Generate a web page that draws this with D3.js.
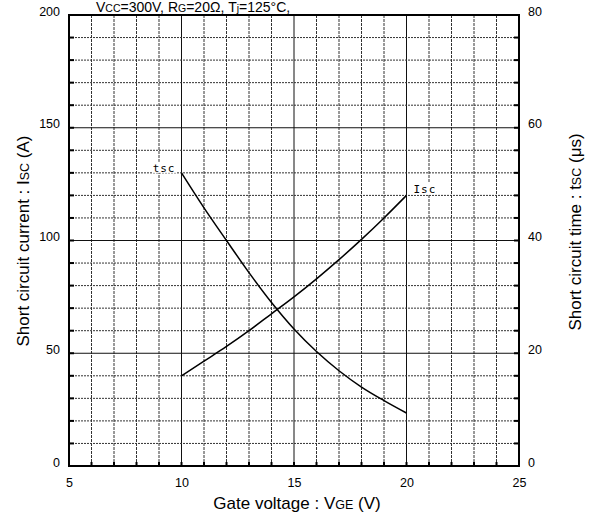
<!DOCTYPE html>
<html><head><meta charset="utf-8">
<script src="https://cdn.jsdelivr.net/npm/d3@7"></script>
<style>body{margin:0;background:#fff;} svg{display:block;font-family:"Liberation Sans",Arial,sans-serif;}</style>
</head><body>
<svg id="c" width="590" height="524"></svg>
<script>
// Data
const vge = [10, 11, 12, 13, 14, 15, 16, 17, 18, 19, 20];            // Gate voltage (V)
const isc = [40, 46.5, 53, 60, 67.5, 75, 83, 91.5, 100.5, 110, 120];  // Short circuit current (A)
const tsc = [52, 45.8, 40, 34.3, 29, 24.3, 20.3, 16.9, 14, 11.6, 9.4]; // Short circuit time (µs)
const xTicks = [5, 10, 15, 20, 25];
const yLeftTicks = [0, 50, 100, 150, 200];
const yRightTicks = [0, 20, 40, 60, 80];

const svg = d3.select("#c");
const m = {l: 69, t: 15, r: 519, b: 466};
const x = d3.scaleLinear().domain([5, 25]).range([m.l, m.r]);
const yL = d3.scaleLinear().domain([0, 200]).range([m.b, m.t]);
const yR = d3.scaleLinear().domain([0, 80]).range([m.b, m.t]);

// grid
const g = svg.append("g");
d3.range(6, 25).forEach(v => {
  g.append("line").attr("x1", x(v)).attr("x2", x(v)).attr("y1", m.t).attr("y2", m.b)
   .attr("stroke", v % 5 === 0 ? "#111" : "#333").attr("stroke-width", 1)
   .attr("stroke-dasharray", v % 5 === 0 ? null : "3,1");
});
d3.range(10, 200, 10).forEach(v => {
  g.append("line").attr("x1", m.l).attr("x2", m.r).attr("y1", yL(v)).attr("y2", yL(v))
   .attr("stroke", v % 50 === 0 ? "#111" : "#333").attr("stroke-width", 1)
   .attr("stroke-dasharray", v % 50 === 0 ? null : "2,1");
});

// inner tick marks
d3.range(10, 200, 10).forEach(v => {
  g.append("line").attr("x1", m.l).attr("x2", m.l + 5).attr("y1", yL(v)).attr("y2", yL(v)).attr("stroke", "#000").attr("stroke-width", 2);
  g.append("line").attr("x1", m.r - 5).attr("x2", m.r).attr("y1", yL(v)).attr("y2", yL(v)).attr("stroke", "#000").attr("stroke-width", 2);
});
d3.range(6, 25).forEach(v => {
  g.append("line").attr("x1", x(v)).attr("x2", x(v)).attr("y1", m.b - 4).attr("y2", m.b).attr("stroke", "#000").attr("stroke-width", 2);
});

// frame
svg.append("rect").attr("x", m.l).attr("y", m.t).attr("width", m.r - m.l).attr("height", m.b - m.t)
  .attr("fill", "none").attr("stroke", "#000").attr("stroke-width", 2);

// axes labels via d3 axes (no lines)
const ax = svg.append("g").attr("transform", `translate(0,${m.b})`)
  .call(d3.axisBottom(x).tickValues(xTicks).tickSize(0).tickPadding(12));
const al = svg.append("g").attr("transform", `translate(${m.l},0)`)
  .call(d3.axisLeft(yL).tickValues(yLeftTicks).tickSize(0).tickPadding(9));
const ar = svg.append("g").attr("transform", `translate(${m.r},0)`)
  .call(d3.axisRight(yR).tickValues(yRightTicks).tickSize(0).tickPadding(9));
[ax, al, ar].forEach(a => {
  a.select(".domain").remove();
  a.selectAll("text").attr("font-size", 12.5).attr("fill", "#000").attr("font-family", "Liberation Sans, Arial, sans-serif");
});
al.selectAll(".tick text").attr("dy", "0.0em");
ar.selectAll(".tick text").attr("dy", "0.0em");

// curves
const lineI = d3.line().x((d, i) => x(vge[i])).y(d => yL(d)).curve(d3.curveMonotoneX);
const lineT = d3.line().x((d, i) => x(vge[i])).y(d => yR(d)).curve(d3.curveMonotoneX);
svg.append("path").attr("d", lineI(isc)).attr("fill", "none").attr("stroke", "#000").attr("stroke-width", 1.5);
svg.append("path").attr("d", lineT(tsc)).attr("fill", "none").attr("stroke", "#000").attr("stroke-width", 1.5);

// curve labels
svg.append("rect").attr("x", x(10) - 29).attr("y", yR(tsc[0]) - 11).attr("width", 24).attr("height", 11).attr("fill", "#fff");
svg.append("text").attr("x", x(10) - 6).attr("y", yR(tsc[0]) - 1).attr("text-anchor", "end")
  .attr("font-size", 11).attr("letter-spacing", 1).attr("font-family", "DejaVu Sans Mono, monospace").text("tsc");
svg.append("rect").attr("x", x(20) + 5).attr("y", yL(isc[10]) - 13).attr("width", 24).attr("height", 12).attr("fill", "#fff");
svg.append("text").attr("x", x(20) + 7).attr("y", yL(isc[10]) - 2)
  .attr("font-size", 11).attr("letter-spacing", 1).attr("font-family", "DejaVu Sans Mono, monospace").text("Isc");

// axis titles
const fs = 17, sfs = 12.5;
const bt = svg.append("text").attr("x", (m.l + m.r) / 2 + 3).attr("y", 509).attr("text-anchor", "middle").attr("font-size", fs);
bt.append("tspan").text("Gate voltage : V");
bt.append("tspan").attr("font-size", sfs).text("GE");
bt.append("tspan").text(" (V)");

const lt = svg.append("text").attr("transform", `translate(29,241) rotate(-90)`).attr("text-anchor", "middle").attr("font-size", fs);
lt.append("tspan").text("Short circuit current : I");
lt.append("tspan").attr("font-size", sfs).text("SC");
lt.append("tspan").text(" (A)");

const rt = svg.append("text").attr("transform", `translate(581,232) rotate(-90)`).attr("text-anchor", "middle").attr("font-size", fs);
rt.append("tspan").text("Short circuit time : t");
rt.append("tspan").attr("font-size", sfs).text("SC");
rt.append("tspan").text(" (μs)");

// condition line at the top
const ct = svg.append("text").attr("x", 96).attr("y", 12).attr("font-size", 14);
ct.append("tspan").text("V");
ct.append("tspan").attr("font-size", 10.5).text("CC");
ct.append("tspan").text("=300V, R");
ct.append("tspan").attr("font-size", 10.5).text("G");
ct.append("tspan").text("=20Ω,  T");
ct.append("tspan").attr("font-size", 10.5).text("j");
ct.append("tspan").text("=125°C,");
</script>
</body></html>
